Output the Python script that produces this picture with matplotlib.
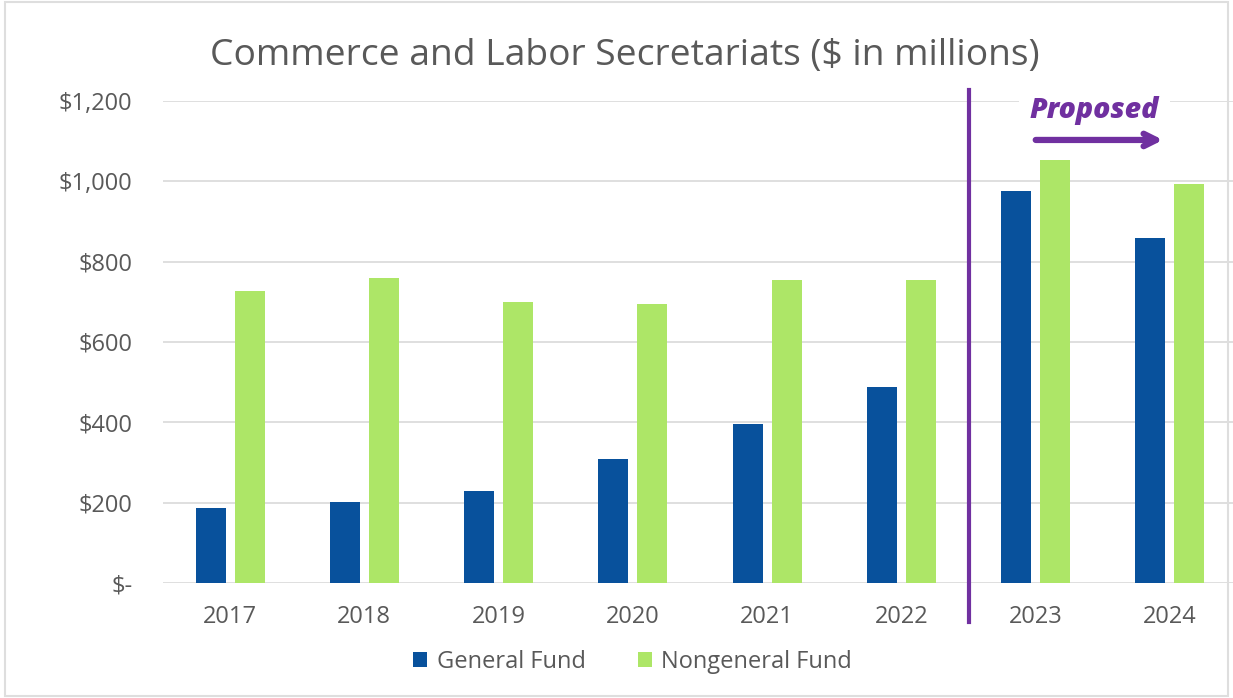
import matplotlib.pyplot as plt
import matplotlib.transforms as mtransforms
import numpy as np

years = ['2017', '2018', '2019', '2020', '2021', '2022', '2023', '2024']
general_fund = [187, 202, 229, 309, 396, 488, 976, 859]
nongeneral_fund = [727, 759, 700, 695, 754, 754, 1053, 993]
yticks = [0, 200, 400, 600, 800, 1000, 1200]
ytick_labels = ['$-', '$200', '$400', '$600', '$800', '$1,000', '$1,200']

text_color = '#595959'
blue = '#08519C'
green = '#ADE667'
purple = '#7030A0'

plt.rcParams['font.family'] = ['Open Sans', 'DejaVu Sans']

fig = plt.figure(figsize=(12.33, 6.98), dpi=100)
ax = fig.add_axes([163 / 1233, 1 - 583 / 698, (1237 - 163) / 1233, (583 - 101) / 698])

x = np.arange(len(years))
w = 0.223
ax.bar(x - 0.145, general_fund, w, color=blue, label='General Fund', zorder=3)
ax.bar(x + 0.145, nongeneral_fund, w, color=green, label='Nongeneral Fund', zorder=3)

ax.set_xlim(-0.5, len(years) - 0.5)
ax.set_ylim(0, 1200)
ax.set_yticks(yticks)
ax.set_yticklabels(ytick_labels)
ax.set_xticks(x)
ax.set_xticklabels(years)
ax.tick_params(axis='both', length=0, labelsize=17, colors=text_color)
ax.tick_params(axis='y', pad=22)
ax.tick_params(axis='x', pad=16)
ax.grid(axis='y', color='#D9D9D9', linewidth=1.2, zorder=0)
for s in ax.spines.values():
    s.set_visible(False)

# divider between actual and proposed
trans = mtransforms.blended_transform_factory(ax.transData, ax.transAxes)
ax.plot([5.5, 5.5], [-0.08, 1.023], transform=trans, color=purple,
        linewidth=3, clip_on=False, zorder=4)

ax.text(6.44, 1176, 'Proposed', color=purple, fontsize=20.5, fontweight='heavy',
        fontstyle='italic', ha='center', va='center', zorder=5,
        bbox=dict(facecolor='white', edgecolor='none', pad=8))
ax.annotate('', xy=(6.97, 1103), xytext=(5.98, 1103),
            arrowprops=dict(arrowstyle='->,head_length=0.9,head_width=0.45',
                            color=purple, lw=4.5), zorder=5)

fig.text(0.507, 0.92, 'Commerce and Labor Secretariats ($ in millions)',
         ha='center', va='center', fontsize=26.8, color=text_color)

fig.legend(loc='center', bbox_to_anchor=(0.513, 0.052), ncol=2, frameon=False,
           fontsize=17, labelcolor=text_color, handlelength=0.6, handleheight=0.6,
           handletextpad=0.4, columnspacing=2.2)

border = plt.Rectangle((0.004, 0.003), 0.992, 0.994, transform=fig.transFigure,
                       fill=False, edgecolor='#DEDEDE', linewidth=1.5)
fig.patches.append(border)

fig.savefig('out.png', dpi=100)
